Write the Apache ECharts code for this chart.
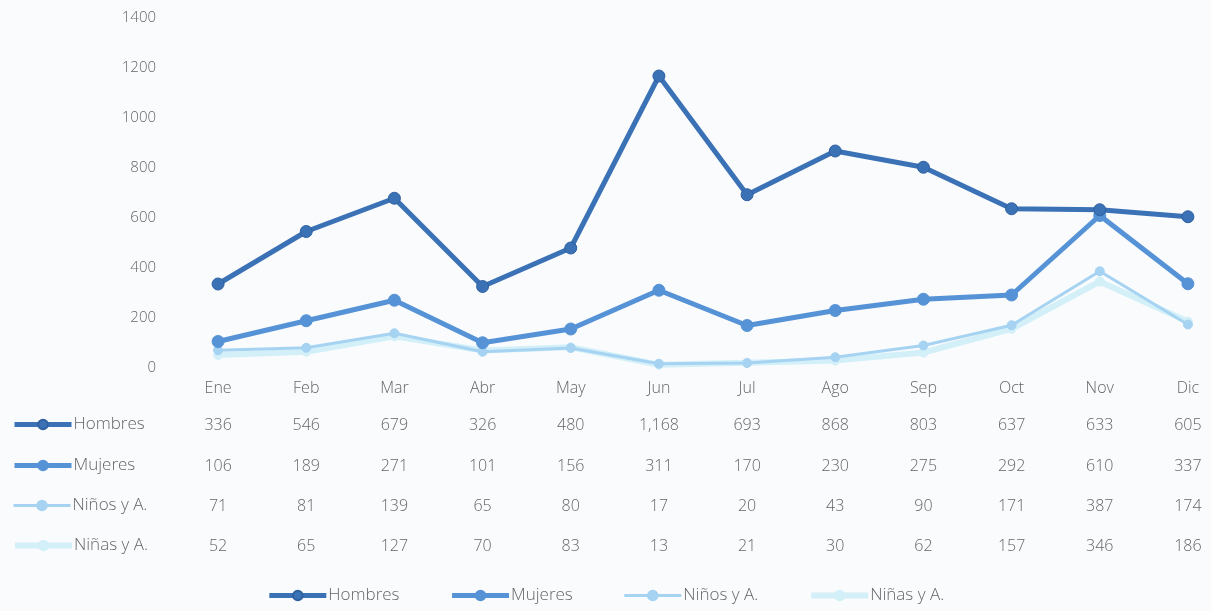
<!DOCTYPE html>
<html>
<head>
<meta charset="utf-8">
<script src="https://cdn.jsdelivr.net/npm/echarts@6/dist/echarts.min.js"></script>
<style>
  html, body { margin: 0; padding: 0; background: #fafbfd; }
  #grafico { width: 1211px; height: 611px; }
</style>
</head>
<body>
<div id="grafico"></div>
<script>
// --- datos ---
var meses = ['Ene', 'Feb', 'Mar', 'Abr', 'May', 'Jun', 'Jul', 'Ago', 'Sep', 'Oct', 'Nov', 'Dic'];
var hombres = [336, 546, 679, 326, 480, 1168, 693, 868, 803, 637, 633, 605];
var mujeres = [106, 189, 271, 101, 156, 311, 170, 230, 275, 292, 610, 337];
var ninos = [71, 81, 139, 65, 80, 17, 20, 43, 90, 171, 387, 174];
var ninas = [52, 65, 127, 70, 83, 13, 21, 30, 62, 157, 346, 186];
var nombres = ['Hombres', 'Mujeres', 'Niños y A.', 'Niñas y A.'];
var colores = ['#3b72b6', '#5593d6', '#a6d3f1', '#d3f0f9'];

var fuente = 'Open Sans';
var gris = '#666';
var series = [hombres, mujeres, ninos, ninas];
var grosor = [5, 5, 3, 6];

function fmt(v) { return v.toLocaleString('en-US'); }

var grafico = echarts.init(document.getElementById('grafico'));

// ejes de la tabla (uno por fila)
var offsets = [37, 78, 118, 158];
var ejesX = [{
    type: 'category',
    data: meses,
    axisLine: { show: false },
    axisTick: { show: false },
    axisLabel: { color: gris, fontFamily: fuente, fontWeight: 300, fontSize: 16, margin: 12 }
}];
series.forEach(function (s, i) {
    ejesX.push({
        type: 'category',
        position: 'bottom',
        offset: offsets[i],
        data: s.map(fmt),
        axisLine: { show: false },
        axisTick: { show: false },
        axisLabel: { color: gris, fontFamily: fuente, fontWeight: 300, fontSize: 16, margin: 12, interval: 0 }
    });
});

function itemLeyenda(n, i) {
    return { name: n, lineStyle: { width: grosor[i] } };
}

// leyendas: abajo y una por fila de la tabla
var leyendas = [{
    bottom: 2,
    left: 'center',
    itemWidth: 57,
    itemHeight: 12,
    itemGap: 50,
    data: nombres.map(itemLeyenda),
    textStyle: { color: gris, fontFamily: fuente, fontWeight: 300, fontSize: 17, padding: [0, 0, 0, -3] }
}];
var filasY = [416, 457, 497, 537];
nombres.forEach(function (n, i) {
    leyendas.push({
        left: 12,
        top: filasY[i],
        itemWidth: 57,
        itemHeight: 12,
        itemGap: 0,
        padding: 0,
        selectedMode: false,
        data: [itemLeyenda(n, i)],
        textStyle: { color: gris, fontFamily: fuente, fontWeight: 300, fontSize: 17, padding: [0, 0, 0, -3] }
    });
});

var option = {
    backgroundColor: '#fafbfd',
    animation: false,
    color: colores,
    grid: { left: 174, top: 18, width: 1058, height: 350, outerBoundsMode: 'none', containLabel: false },
    legend: leyendas,
    xAxis: ejesX,
    yAxis: {
        type: 'value',
        min: 0,
        max: 1400,
        interval: 200,
        splitLine: { show: false },
        axisLine: { show: false },
        axisTick: { show: false },
        axisLabel: { color: gris, fontFamily: fuente, fontWeight: 300, fontSize: 15, margin: 18, formatter: function (v) { return String(v); } }
    },
    series: nombres.map(function (n, i) {
        return {
            name: n,
            type: 'line',
            data: series[i],
            symbol: 'circle',
            symbolSize: i < 2 ? 12 : 9,
            lineStyle: { width: grosor[i], color: colores[i] },
            itemStyle: { color: colores[i], borderColor: i === 0 ? '#2f619f' : colores[i], borderWidth: 1 },
            z: 10 - i
        };
    })
};
grafico.setOption(option);
</script>
</body>
</html>
